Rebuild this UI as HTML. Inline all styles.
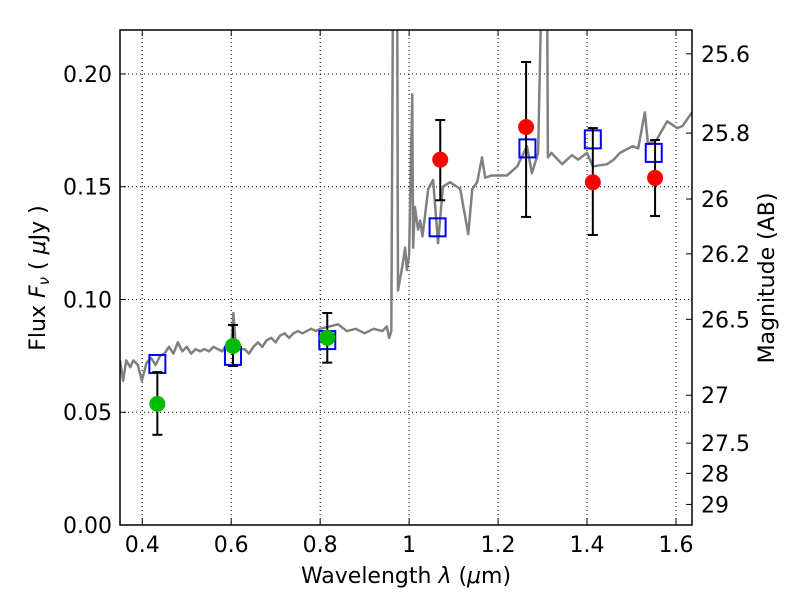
<!DOCTYPE html>
<html><head><meta charset="utf-8"><style>
body{margin:0;background:#fff;}
svg text{font-family:"DejaVu Sans","Liberation Sans",sans-serif;font-size:22px;fill:#000;}
</style></head><body>
<svg id="chart" width="800" height="600" xmlns="http://www.w3.org/2000/svg"></svg>
<script>
const specLam=[0.35,0.357,0.364,0.373,0.38,0.39,0.399,0.41,0.42,0.43,0.44,0.45,0.46,0.47,0.48,0.49,0.50,0.51,0.52,0.53,0.54,0.55,0.56,0.57,0.58,0.59,0.60,0.605,0.61,0.62,0.63,0.64,0.65,0.66,0.67,0.68,0.69,0.70,0.71,0.72,0.73,0.74,0.75,0.76,0.77,0.78,0.79,0.80,0.82,0.84,0.86,0.88,0.90,0.92,0.94,0.95,0.955,0.96,0.964,0.973,0.975,0.985,0.991,0.995,1.0,1.007,1.009,1.013,1.02,1.025,1.03,1.043,1.054,1.065,1.076,1.092,1.115,1.133,1.142,1.153,1.164,1.171,1.186,1.22,1.243,1.265,1.276,1.29,1.299,1.31,1.312,1.32,1.344,1.366,1.38,1.4,1.413,1.445,1.46,1.474,1.503,1.515,1.53,1.537,1.557,1.58,1.603,1.615,1.636];
const specFlux=[0.073,0.064,0.073,0.070,0.073,0.071,0.064,0.072,0.074,0.071,0.075,0.076,0.079,0.076,0.081,0.077,0.079,0.076,0.078,0.077,0.078,0.077,0.079,0.078,0.077,0.080,0.079,0.094,0.080,0.078,0.078,0.076,0.079,0.081,0.079,0.082,0.083,0.081,0.084,0.085,0.083,0.085,0.086,0.085,0.086,0.087,0.086,0.087,0.088,0.089,0.086,0.087,0.085,0.087,0.086,0.088,0.083,0.086,0.25,0.25,0.104,0.115,0.123,0.113,0.120,0.191,0.123,0.141,0.131,0.135,0.128,0.149,0.153,0.125,0.150,0.152,0.149,0.129,0.149,0.152,0.163,0.154,0.155,0.155,0.159,0.168,0.156,0.165,0.25,0.25,0.163,0.165,0.160,0.164,0.162,0.165,0.159,0.160,0.162,0.165,0.168,0.167,0.183,0.169,0.171,0.179,0.176,0.177,0.183];
const greenLam=[0.434,0.604,0.816];
const greenFlux=[0.0537,0.0794,0.083];
const greenLo=[0.040,0.0705,0.072];
const greenHi=[0.0678,0.0887,0.094];
const redLam=[1.07,1.263,1.413,1.553];
const redFlux=[0.162,0.1765,0.152,0.1539];
const redLo=[0.144,0.1366,0.1286,0.137];
const redHi=[0.1796,0.2053,0.176,0.1707];
const modelLam=[0.434,0.604,0.816,1.064,1.266,1.413,1.55];
const modelFlux=[0.0714,0.075,0.082,0.132,0.167,0.171,0.165];
const xTicks=[0.4,0.6,0.8,1.0,1.2,1.4,1.6];
const xTickLabels=["0.4","0.6","0.8","1","1.2","1.4","1.6"];
const yTicks=[0,0.05,0.10,0.15,0.20];
const yTickLabels=["0.00","0.05","0.10","0.15","0.20"];
const magTicks=[25.6,25.8,26,26.2,26.5,27,27.5,28,29];
const magTickLabels=["25.6","25.8","26","26.2","26.5","27","27.5","28","29"];

const L=120,R=692,T=30,B=525,XMIN=0.35,XMAX=1.636,YMIN=0,YMAX=0.2195;
const X=v=>L+(v-XMIN)/(XMAX-XMIN)*(R-L);
const Y=v=>B-(v-YMIN)/(YMAX-YMIN)*(B-T);
const NS="http://www.w3.org/2000/svg";
const svg=document.getElementById('chart');
function mk(tag,attrs,parent){const e=document.createElementNS(NS,tag);for(const k in attrs)e.setAttribute(k,attrs[k]);(parent||svg).appendChild(e);return e;}
const defs=mk('defs',{});const cp=mk('clipPath',{id:'clip'},defs);mk('rect',{x:L,y:T,width:R-L,height:B-T},cp);

xTicks.forEach((t,i)=>{
 const g=mk('line',{x1:X(t),x2:X(t),y1:T,y2:B,stroke:'#000','stroke-dasharray':'1,3','stroke-width':1});
 
 
 mk('line',{x1:X(t),x2:X(t),y1:B,y2:B-6,stroke:'#000'});
 mk('line',{x1:X(t),x2:X(t),y1:T,y2:T+6,stroke:'#000'});
 const tx=mk('text',{x:X(t),y:B+27,'text-anchor':'middle'});tx.textContent=xTickLabels[i];
 
 
});
yTicks.forEach((t,i)=>{
 const g=mk('line',{x1:L,x2:R,y1:Y(t),y2:Y(t),stroke:'#000','stroke-dasharray':'1,3','stroke-width':1});
 
 
 mk('line',{x1:L,x2:L+6,y1:Y(t),y2:Y(t),stroke:'#000'});
 const tx=mk('text',{x:L-8,y:Y(t)+8,'text-anchor':'end'});tx.textContent=yTickLabels[i];
 
 
});
magTicks.forEach((m,i)=>{
 const f=Math.pow(10,(23.9-m)/2.5);
 mk('line',{x1:R,x2:R-6,y1:Y(f),y2:Y(f),stroke:'#000'});
 const tx=mk('text',{x:R+9,y:Y(f)+8,'text-anchor':'start'});tx.textContent=magTickLabels[i];
 
 
});

const sp=mk('polyline',{points:specLam.map((l,i)=>X(l)+','+Y(specFlux[i])).join(' '),fill:'none',stroke:'#808080','stroke-width':2.5,'clip-path':'url(#clip)','stroke-linejoin':'round'});



modelLam.forEach((l,i)=>{
 const r=mk('rect',{x:X(l)-8,y:Y(modelFlux[i])-9,width:16,height:18,fill:'none',stroke:'#0000ff','stroke-width':2});
 
 
});
function pts(lam,flux,lo,hi,color,name){
 lam.forEach((l,i)=>{
  const x=X(l);
  mk('line',{x1:x,x2:x,y1:Y(lo[i]),y2:Y(hi[i]),stroke:'#000','stroke-width':2});
  mk('line',{x1:x-5,x2:x+5,y1:Y(lo[i]),y2:Y(lo[i]),stroke:'#000','stroke-width':2});
  mk('line',{x1:x-5,x2:x+5,y1:Y(hi[i]),y2:Y(hi[i]),stroke:'#000','stroke-width':2});
  const c=mk('circle',{cx:x,cy:Y(flux[i]),r:8,fill:color});
  
  
 });
}
pts(greenLam,greenFlux,greenLo,greenHi,'#00bb00','optical-data-point');
pts(redLam,redFlux,redLo,redHi,'#ff0000','nir-data-point');

const fr=mk('rect',{x:L,y:T,width:R-L,height:B-T,fill:'none',stroke:'#000','stroke-width':1.5});



const xl=mk('text',{x:(L+R)/2,y:583,'text-anchor':'middle'});
xl.innerHTML='Wavelength  <tspan font-style="italic">λ</tspan> (<tspan font-style="italic">μ</tspan>m)';


const yl=mk('text',{x:0,y:0,transform:'translate(45,278) rotate(-90)','text-anchor':'middle'});
yl.innerHTML='Flux  <tspan font-style="italic">F<tspan font-size="15" dy="4">ν</tspan></tspan><tspan dy="-4">  ( </tspan><tspan font-style="italic">μ</tspan>Jy )';


const rl=mk('text',{x:0,y:0,transform:'translate(774,278) rotate(-90)','text-anchor':'middle'});
rl.textContent='Magnitude (AB)';


</script>
</body></html>
